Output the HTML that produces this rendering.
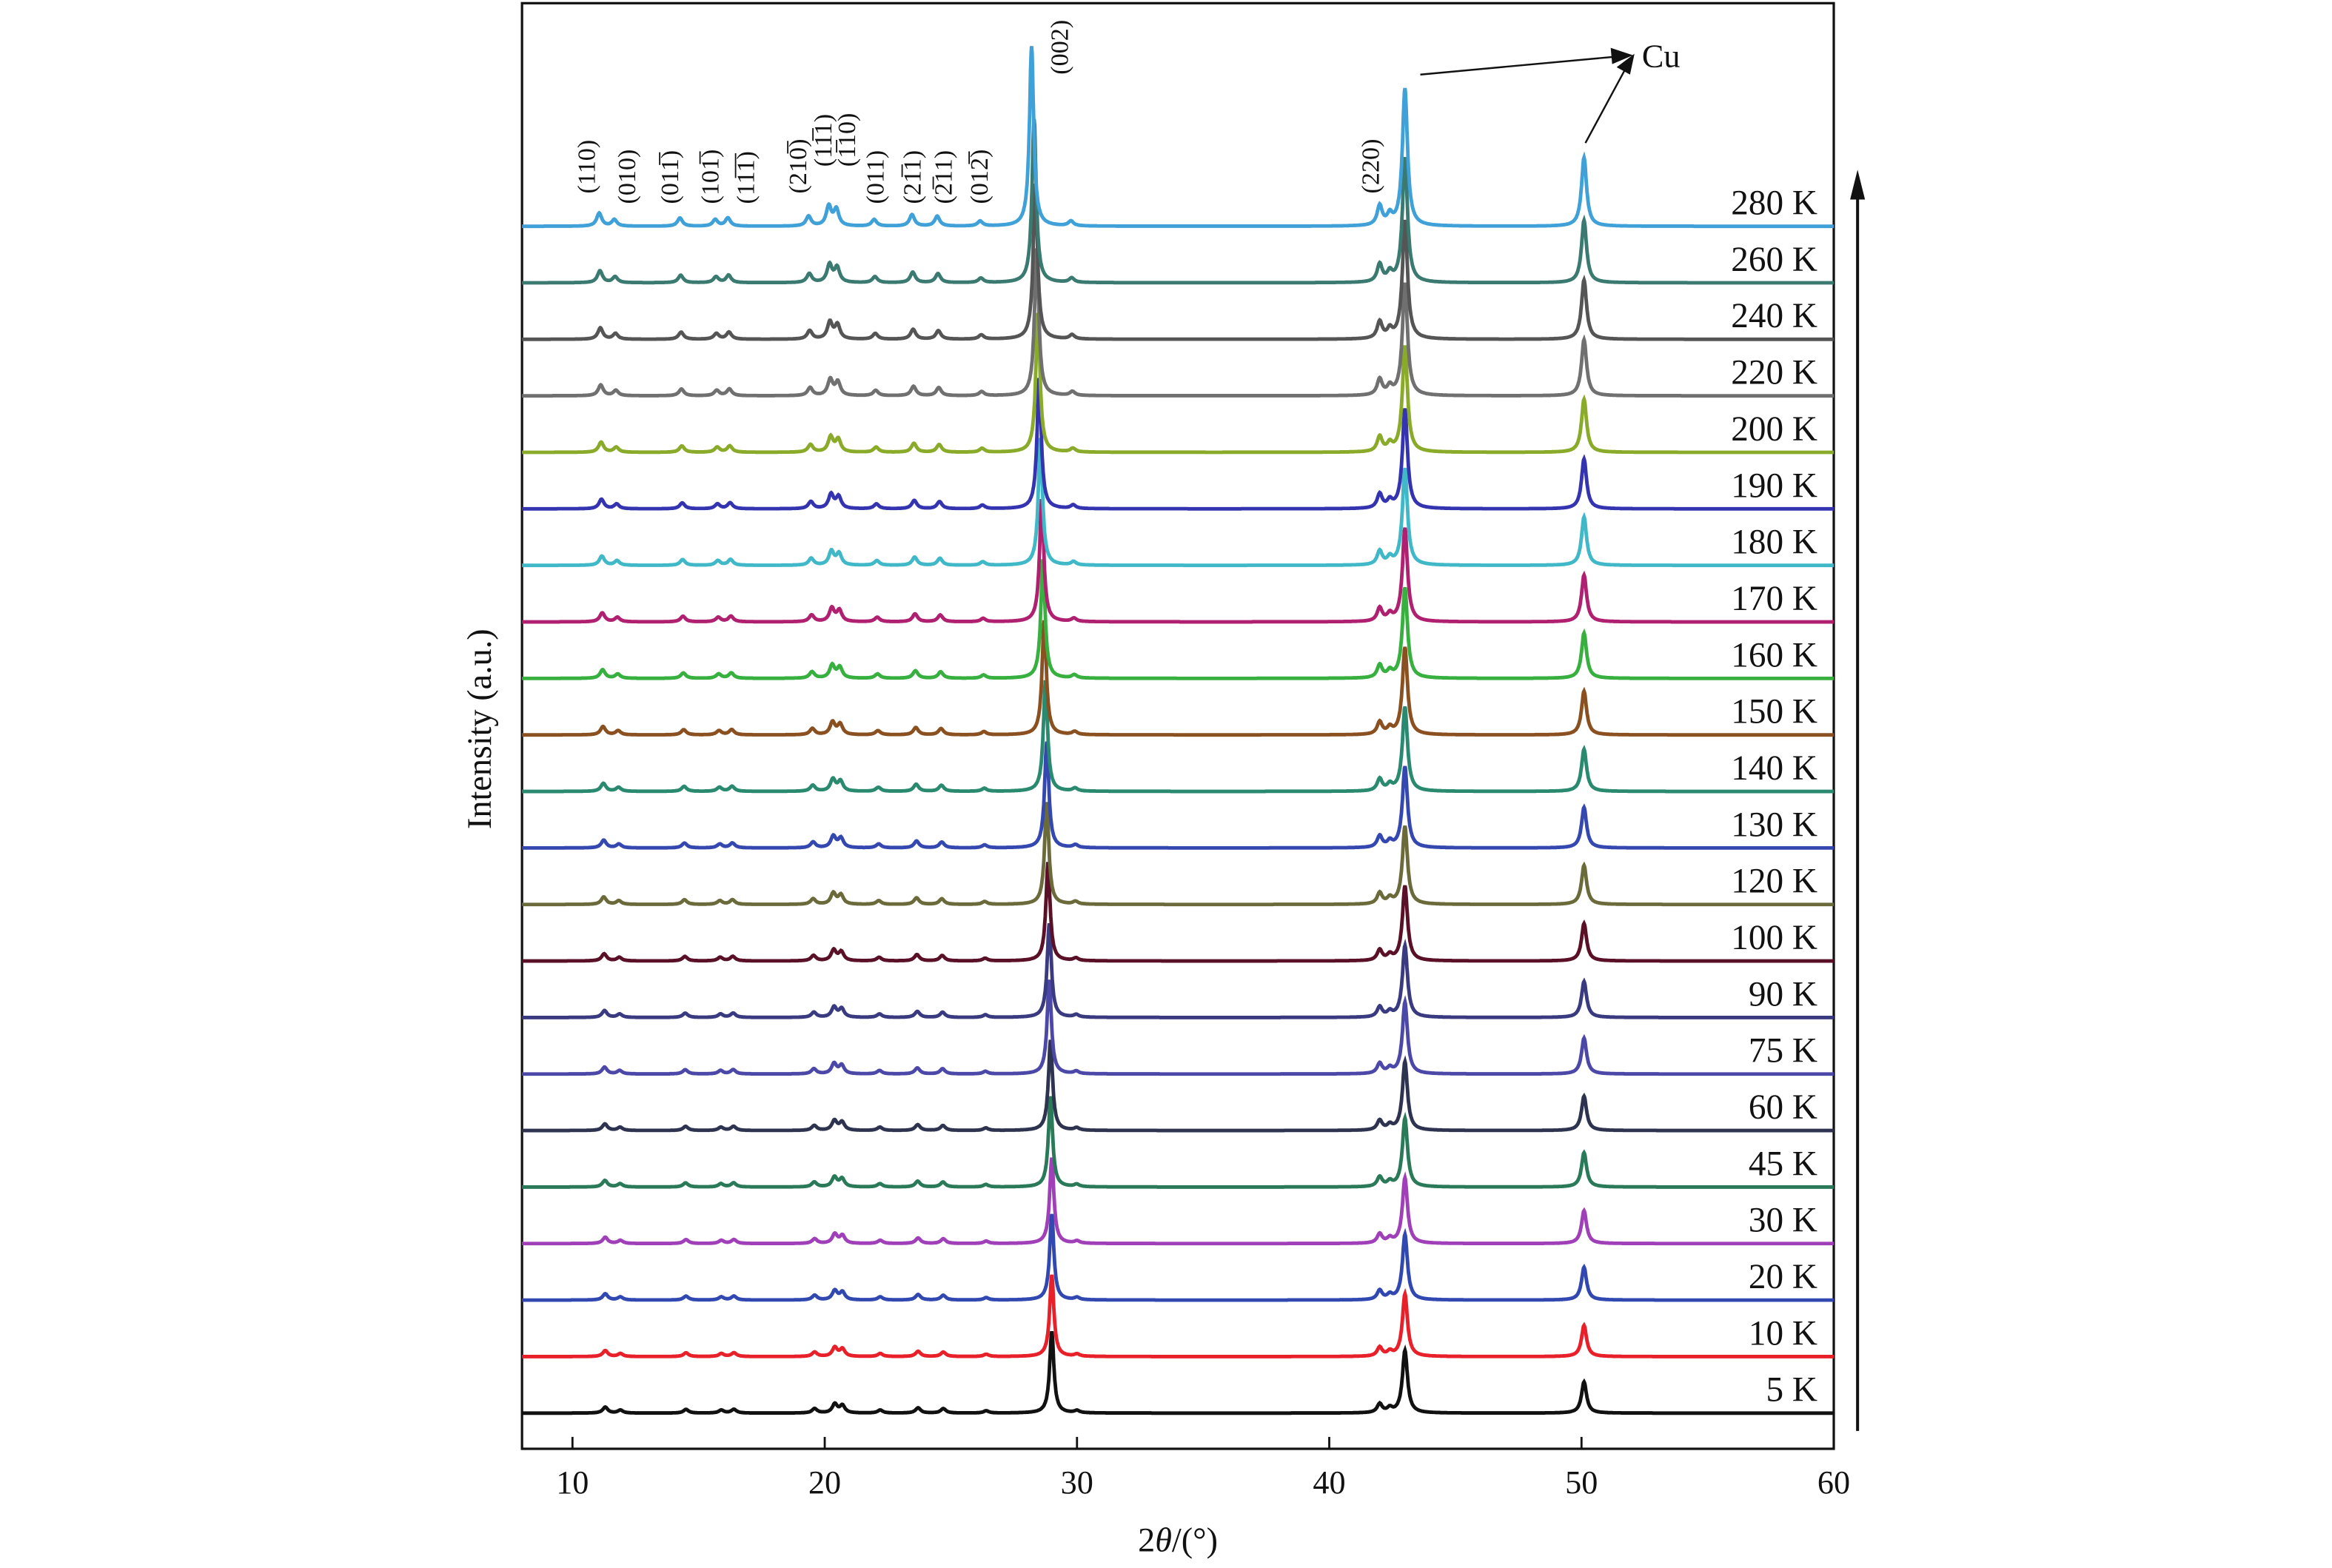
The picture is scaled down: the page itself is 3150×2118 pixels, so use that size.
<!DOCTYPE html>
<html><head><meta charset="utf-8"><style>
html,body{margin:0;padding:0;background:#fff}
svg{display:block}
text{font-family:"Liberation Serif",serif;fill:#111}
</style></head><body>
<svg id="chart" width="3150" height="2118" viewBox="0 0 1568 1054" xmlns="http://www.w3.org/2000/svg">
<rect x="351" y="2" width="882" height="972" fill="none" stroke="#111" stroke-width="1.6"/>
<g id="traces"></g>
<g id="xticks"></g>
<g id="labels"></g>
<text x="792" y="1043" font-size="23" text-anchor="middle">2<tspan font-style="italic">θ</tspan>/(°)</text>
<text transform="translate(330,490) rotate(-90)" font-size="23" text-anchor="middle">Intensity (a.u.)</text>
<g>
<line x1="1249" y1="962" x2="1249" y2="130" stroke="#111" stroke-width="2"/>
<polygon points="1249,114 1244,134 1254,134" fill="#111"/>
</g>
<g>
<line x1="955" y1="50" x2="1086" y2="38" stroke="#111" stroke-width="1.2"/>
<polygon points="1098,37 1083,32 1084,43" fill="#111"/>
<line x1="1066" y1="96" x2="1093" y2="46" stroke="#111" stroke-width="1.2"/>
<polygon points="1099,36 1087,45 1096,50" fill="#111"/>
<text x="1104" y="45" font-size="22">Cu</text>
</g>
<g id="hkl"></g>
</svg>
<script>
const temps=["5 K","10 K","20 K","30 K","45 K","60 K","75 K","90 K","100 K","120 K","130 K","140 K","150 K","160 K","170 K","180 K","190 K","200 K","220 K","240 K","260 K","280 K"];
const colors=["#111111","#e8202a","#3048b0","#a040b8","#2a7a5a","#2e3450","#4c48a8","#3a3a80","#5a1026","#6a6a3a","#3448b0","#2a8a70","#8a5020","#38b040","#b02070","#40b8c8","#3434b0","#8aaa2a","#707070","#555555","#3a7a70","#40a0d8"];
const pos002=[29.0,29.0,29.0,29.0,28.95,28.95,28.9,28.9,28.85,28.8,28.8,28.75,28.7,28.65,28.6,28.55,28.5,28.45,28.4,28.35,28.3,28.2];
const scale=[1.0,1.0,1.05,1.05,1.1,1.1,1.15,1.15,1.2,1.25,1.3,1.35,1.4,1.45,1.5,1.55,1.6,1.7,1.8,1.9,2.0,2.2];
const peakPos=[11.3,11.9,14.5,15.9,16.4,19.6,20.4,20.7,22.2,23.7,24.7,26.4,30.0,42.0,42.4,43.0,50.1];
const peakH=[4,2,2.5,2,2.5,3,6,5,2,3.5,3,1.5,1.5,6,3,42,21];
const h002=[55];
const xTicks=[10,20,30,40,50,60];
const X0=8,X1=60,PL=351,PR=1233;
const xs=v=>PL+(v-X0)/(X1-X0)*(PR-PL);
const base=i=>950-i*38;
const NS="http://www.w3.org/2000/svg";
const tr=document.getElementById('traces');
function prof(x,c,w){const d=(x-c)/w;return 1/(1+d*d);}
for(let i=0;i<temps.length;i++){
  let d="";
  const sh=(pos002[i]-29.0)*0.3;
  for(let x=X0;x<=X1+1e-9;x+=0.02){
    let y=0;
    for(let k=0;k<peakPos.length;k++){const c=peakPos[k]+(k<13?sh:0);y+=peakH[k]*scale[i]*prof(x,c,0.12);}
    y+=h002[0]*scale[i]*prof(x,pos002[i],0.1);
    d+=(d?"L":"M")+xs(x).toFixed(1)+","+(base(i)-y).toFixed(1);
  }
  const p=document.createElementNS(NS,'path');
  p.setAttribute('d',d);p.setAttribute('fill','none');p.setAttribute('stroke',colors[i]);p.setAttribute('stroke-width','2.4');
  
  
  tr.appendChild(p);
  const t=document.createElementNS(NS,'text');
  t.setAttribute('x','1222');t.setAttribute('y',base(i)-8);t.setAttribute('font-size','23.5');t.setAttribute('text-anchor','end');
  t.textContent=temps[i];
  
  
  document.getElementById('labels').appendChild(t);
}
const xt=document.getElementById('xticks');
for(const v of xTicks){
  const l=document.createElementNS(NS,'line');
  l.setAttribute('x1',xs(v));l.setAttribute('x2',xs(v));l.setAttribute('y1',974);l.setAttribute('y2',966);l.setAttribute('stroke','#111');l.setAttribute('stroke-width','1.4');
  
  
  xt.appendChild(l);
  const t=document.createElementNS(NS,'text');
  t.setAttribute('x',xs(v));t.setAttribute('y',1004);t.setAttribute('font-size','22');t.setAttribute('text-anchor','middle');t.textContent=v;
  
  
  xt.appendChild(t);
}
const hklText=["(110)","(010)","(011\u0305)","(101\u0305)","(11\u03051\u0305)","(210\u0305)","(11\u03051)","(1\u030510)","(011)","(21\u03051)","(2\u030511)","(012\u0305)","(002)","(220)"];
const hklX=[400,427,456,483,507,542,559,575,594,619,640,664,718,927];
const hklY=[130,137,137,137,137,130,112,112,137,137,137,137,50,130];
const hg=document.getElementById('hkl');
for(let k=0;k<hklText.length;k++){
  const t=document.createElementNS(NS,'text');
  t.setAttribute('transform','translate('+hklX[k]+','+hklY[k]+') rotate(-90)');
  t.setAttribute('font-size','17');t.textContent=hklText[k];
  
  
  hg.appendChild(t);
}
</script>
</body></html>
